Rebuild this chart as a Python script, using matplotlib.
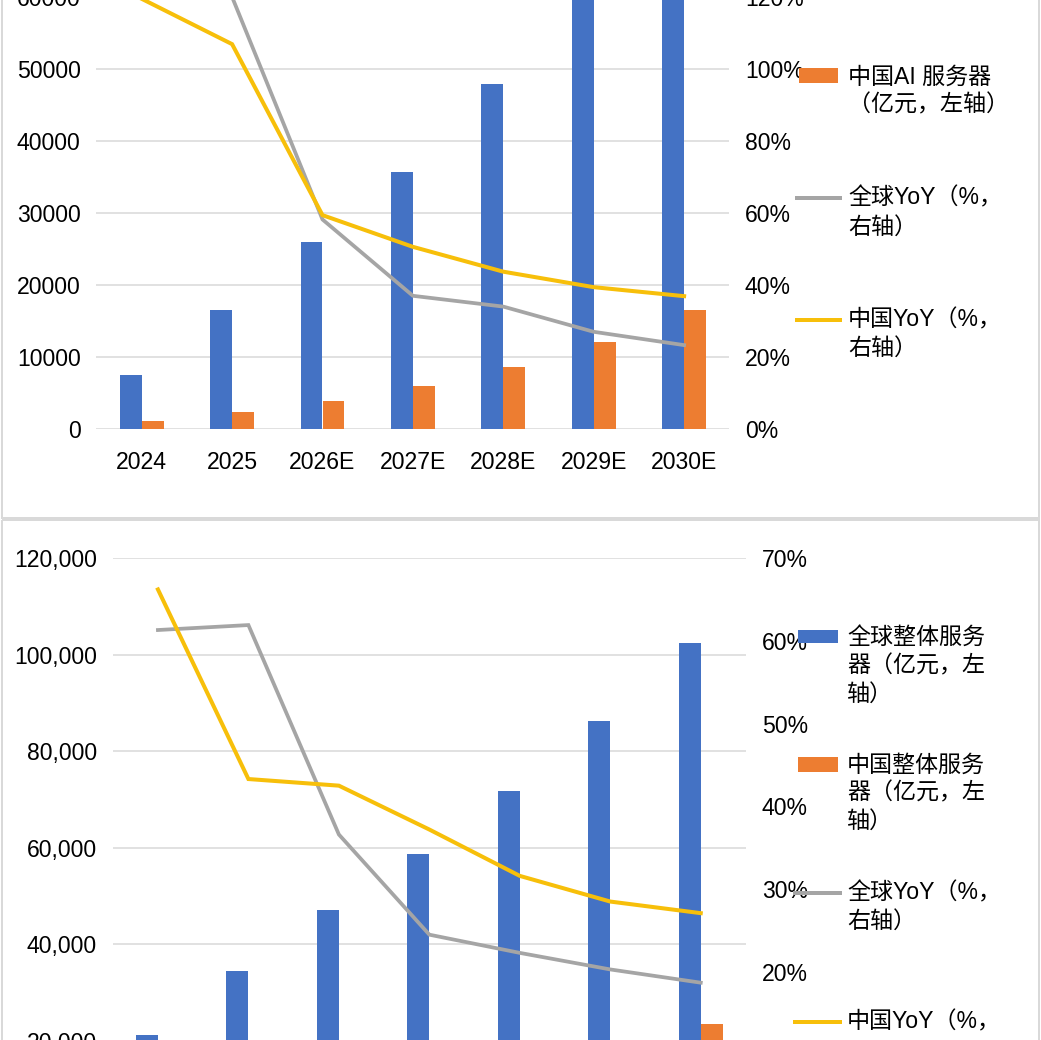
import matplotlib
matplotlib.use('Agg')
import matplotlib.pyplot as plt
from matplotlib.patches import Rectangle
from matplotlib.lines import Line2D
from matplotlib.ticker import FuncFormatter
import numpy as np

plt.rcParams['font.family'] = ['Liberation Sans', 'Noto Sans CJK SC']
plt.rcParams['font.size'] = 16.6

years = ['2024', '2025', '2026E', '2027E', '2028E', '2029E', '2030E']

# top chart: AI servers (亿元, left axis) and YoY (%, right axis)
ai_global = [7500, 16500, 26000, 35650, 47900, 60800, 75000]
ai_china = [1100, 2300, 3900, 5970, 8650, 12100, 16500]
ai_global_yoy = [165, 120, 58.2, 37.0, 34.0, 27.0, 23.3]
ai_china_yoy = [119.5, 106.9, 59.4, 50.6, 43.7, 39.4, 36.9]

# bottom chart: all servers
srv_global = [21200, 34500, 47100, 58700, 71800, 86200, 102500]
srv_china = [3900, 5600, 8000, 11000, 14450, 18600, 23600]
srv_global_yoy = [61.3, 61.9, 36.6, 24.5, 22.3, 20.3, 18.7]
srv_china_yoy = [66.2, 43.3, 42.5, 37.2, 31.6, 28.5, 27.1]

BLUE = '#4472C4'
ORANGE = '#ED7D31'
GRAY = '#A5A5A5'
YELLOW = '#F7BF0A'
GRID = '#D9D9D9'

W, H = 1041, 1040
PX = 72 / 100  # points per pixel at dpi 100


def box(l, t, r, b):
    # pixel box (top-left origin) -> figure fraction
    return [l / W, 1 - b / H, (r - l) / W, (b - t) / H]


def draw_panel(rect, bars_g, bars_c, yoy_g, yoy_c, ymax, yticks, rmax, rticks, left_fmt):
    ax = fig.add_axes(rect)
    x = np.arange(len(years))
    w = 0.243
    ax.bar(x - w / 2, bars_g, w, color=BLUE, zorder=2)
    ax.bar(x + w / 2, bars_c, w, color=ORANGE, zorder=2)
    ax.set_xlim(-0.5, len(years) - 0.5)
    ax.set_ylim(0, ymax)
    ax.set_yticks(yticks)
    ax.yaxis.set_major_formatter(FuncFormatter(left_fmt))
    ax.set_xticks(x)
    ax.set_xticklabels(years)
    ax.yaxis.grid(True, color=GRID, lw=1.1)
    ax.set_axisbelow(True)
    for s in ax.spines.values():
        s.set_visible(False)
    ax.tick_params(axis='y', length=0, pad=11.5)
    ax.tick_params(axis='x', length=0, pad=16)

    ax2 = ax.twinx()
    ax2.plot(x, yoy_g, color=GRAY, lw=2.7, solid_joinstyle='miter', zorder=3)
    ax2.plot(x, yoy_c, color=YELLOW, lw=2.9, solid_joinstyle='miter', zorder=4)
    ax2.set_ylim(0, rmax)
    ax2.set_yticks(rticks)
    ax2.yaxis.set_major_formatter(FuncFormatter(lambda v, p: f'{v:.0f}%'))
    for s in ax2.spines.values():
        s.set_visible(False)
    ax2.tick_params(axis='y', length=0, pad=11.3)
    return ax, ax2


fig = plt.figure(figsize=(W / 100, H / 100), dpi=100)

draw_panel(box(96.5, 429 - 7 * 72, 729.3, 429), ai_global, ai_china,
           ai_global_yoy, ai_china_yoy,
           70000, range(0, 60001, 10000), 140, range(0, 121, 20),
           lambda v, p: f'{v:.0f}')

draw_panel(box(112.7, 558, 746, 1137.5), srv_global, srv_china,
           srv_global_yoy, srv_china_yoy,
           120000, range(20000, 120001, 20000), 70, range(20, 71, 10),
           lambda v, p: f'{v:,.0f}')

# overlay in pixel coordinates for panel frames and legends
ov = fig.add_axes([0, 0, 1, 1], zorder=10)
ov.set_xlim(0, W)
ov.set_ylim(H, 0)
ov.axis('off')
ov.patch.set_alpha(0)

ov.add_patch(Rectangle((2, -10), 1037, 527.5, fill=False, ec=GRID, lw=2 * PX))
ov.add_patch(Rectangle((2, 519.5), 1037, 540, fill=False, ec=GRID, lw=2 * PX))


def legend_patch(x0, y0, x1, y1, color):
    ov.add_patch(Rectangle((x0, y0), x1 - x0, y1 - y0, color=color, lw=0))


def legend_line(x0, x1, y, color):
    ov.add_line(Line2D([x0, x1], [y, y], color=color, lw=4 * PX))


def legend_text(x, ys, lines):
    for y, s in zip(ys, lines):
        ov.text(x, y, s, ha='left', va='center', color='black')


# top legend
legend_patch(799, 68, 838, 83, ORANGE)
legend_text(848, [77, 105], ['中国AI 服务器', '（亿元，左轴）'])
legend_line(797, 840, 198, GRAY)
legend_text(848, [198, 227], ['全球YoY（%，', '右轴）'])
legend_line(797, 840, 320, YELLOW)
legend_text(848, [320, 348], ['中国YoY（%，', '右轴）'])

# bottom legend
legend_patch(798, 630, 838, 643, BLUE)
legend_text(847, [637, 666, 694], ['全球整体服务', '器（亿元，左', '轴）'])
legend_patch(798, 757, 838, 772, ORANGE)
legend_text(847, [765, 793, 821], ['中国整体服务', '器（亿元，左', '轴）'])
legend_line(795, 840, 893, GRAY)
legend_text(847, [893, 921], ['全球YoY（%，', '右轴）'])
legend_line(795, 840, 1022, YELLOW)
legend_text(847, [1022], ['中国YoY（%，'])

fig.savefig('out.png', dpi=100)
